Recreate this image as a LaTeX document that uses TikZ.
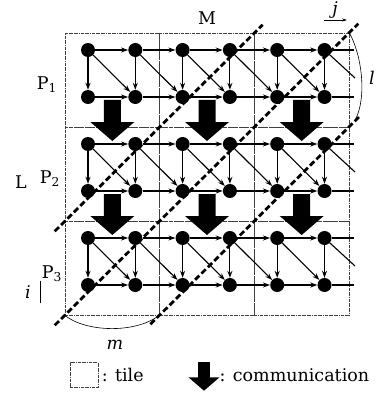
\documentclass[tikz,border=0pt]{standalone}
\usepackage{fontspec}
\setmainfont{DejaVu Serif}
\usetikzlibrary{arrows.meta,positioning}

\begin{document}
\begin{tikzpicture}[
    x=1pt, y=-1pt,
    font=\fontsize{17.5}{20}\selectfont,
    pe/.style={circle, fill=black, inner sep=0pt, minimum size=14pt},
    tile/.style={draw=black!75, densely dashdotted, line width=0.5pt, inner sep=0pt},
    dep/.style={-{Stealth[length=7pt,width=5pt]}, line width=1.1pt},
    cut/.style={line width=2.8pt, dash pattern=on 6pt off 3pt},
    comm/.pic={\fill (-8.5,0) -- (8.5,0) -- (8.5,22) -- (22,22) -- (0,41)
      -- (-22,22) -- (-8.5,22) -- cycle;}
  ]
  \useasboundingbox (0,0) rectangle (377,393);

  % tiles
  \foreach \i in {0,1,2}
    \foreach \j in {0,1,2}
      \node[tile, minimum width=94.67pt, minimum height=94pt]
        (t\i\j) at (112.33+94.67*\j, 80+94*\i) {};

  % iteration points
  \foreach \r in {0,...,5}
    \foreach \c in {0,...,5}
      \node[pe] (n\r\c) at (88+47.3*\c, 50+47*\r) {};

  % dependences
  \foreach \r in {0,...,5} {
    \coordinate (h\r) at (354, 50+47*\r);
    \foreach \c [evaluate=\c as \d using int(\c+1)] in {0,...,4}
      \draw[dep] (n\r\c) -- (n\r\d);
    \draw[line width=1.1pt] (n\r5) -- (h\r);
  }
  \foreach \r [evaluate=\r as \s using int(\r+1)] in {0,2,4} {
    \coordinate (g\r) at (355, 50+47*\r+28);
    \foreach \c in {0,...,5}
      \draw[dep] (n\r\c) -- (n\s\c);
    \foreach \c [evaluate=\c as \d using int(\c+1)] in {0,...,4}
      \draw[dep] (n\r\c) -- (n\s\d);
    \draw[line width=1.1pt] (n\r5) -- (g\r);
  }

  % communication
  \foreach \k in {0,1}
    \foreach \j in {0,1,2}
      \pic at (112.33+94.67*\j, 100+94*\k) {comm};

  % tiling hyperplanes
  \draw[cut] ([shift={(-10,10)}]t10.south west) -- ([shift={(8,-8)}]t01.north east);
  \draw[cut] ([shift={(-10,10)}]t20.south west) -- ([shift={(9,-9)}]t02.north east);
  \draw[cut] ([shift={(-9,9)}]t21.south west) -- ([shift={(10,-10)}]t12.north east);

  % tile sizes
  \draw[line width=0.6pt] (t02.north east) .. controls (362,55) and (367,98)
    .. ([shift={(6,-7)}]t12.north east);
  \node (l) at (372,78) {\itshape l};
  \draw[line width=0.6pt] (t20.south west) .. controls (85,332) and (135,334)
    .. (t21.south west);
  \node (m) at (115,345) {\itshape m};

  % labels
  \node (M) at (207,18) {M};
  \node (L) at (21,182) {L};
  \node (P1) at (47,85) {P\textsubscript{1}};
  \node (P2) at (50,179) {P\textsubscript{2}};
  \node (P3) at (52,274) {P\textsubscript{3}};

  \node (j) at (335,10) {\itshape j};
  \coordinate (j0) at (324,20);
  \coordinate (j1) at (347,20);
  \draw[-{Stealth[length=5pt,width=3pt]}, line width=0.6pt] (j0) -- (j1);
  \node (i) at (28,292) {\itshape i};
  \coordinate (i0) at (40,281);
  \coordinate (i1) at (40,303);
  \draw[line width=0.6pt] (i0) -- (i1);

  % legend
  \node[tile, minimum width=28pt, minimum height=25pt] (key) at (84,375) {};
  \node[right=0pt of key] (keytxt) {: tile};
  \pic[scale=0.7] at (204,362) {comm};
  \node[anchor=west] (commtxt) at (216,375) {: communication};
\end{tikzpicture}
\end{document}
